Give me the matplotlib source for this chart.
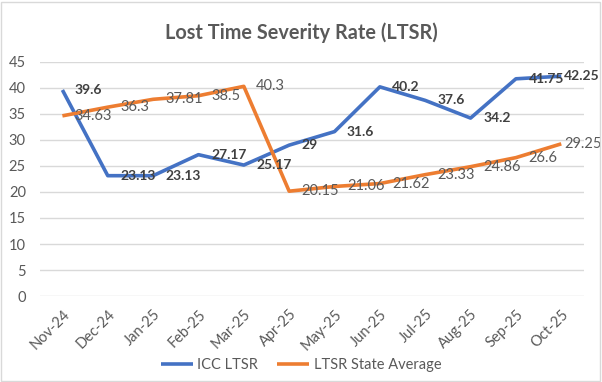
import matplotlib
matplotlib.use("Agg")
import matplotlib.pyplot as plt
from matplotlib.patches import Rectangle

months = ['Nov-24', 'Dec-24', 'Jan-25', 'Feb-25', 'Mar-25', 'Apr-25',
          'May-25', 'Jun-25', 'Jul-25', 'Aug-25', 'Sep-25', 'Oct-25']
icc_ltsr = [39.6, 23.13, 23.13, 27.17, 25.17, 29, 31.6, 40.2, 37.6, 34.2, 41.75, 42.25]
state_avg = [34.63, 36.3, 37.81, 38.5, 40.3, 20.15, 21.06, 21.62, 23.33, 24.86, 26.6, 29.25]
icc_labels = ['39.6', '23.13', '23.13', '27.17', '25.17', '29', '31.6', '40.2', '37.6', '34.2', '41.75', '42.25']
state_labels = ['34.63', '36.3', '37.81', '38.5', '40.3', '20.15', '21.06', '21.62', '23.33', '24.86', '26.6', '29.25']

plt.rcParams['font.family'] = ['Lato', 'DejaVu Sans']

blue = '#4472C4'
orange = '#ED7D31'
grey = '#595959'

fig = plt.figure(figsize=(6.02, 3.82), dpi=100)
ax = fig.add_axes([0.066, 0.225, 0.904, 0.613])

x = list(range(len(months)))
ax.plot(x, icc_ltsr, color=blue, lw=2.6, label='ICC LTSR', solid_capstyle='butt')
ax.plot(x, state_avg, color=orange, lw=2.6, label='LTSR State Average', solid_capstyle='butt')

# data labels to the right of points (last one squeezed in like Excel does)
for i in x:
    off = 9 if i < len(x) - 1 else 2
    ax.annotate(icc_labels[i], (i, icc_ltsr[i]), xytext=(off, 0), textcoords='offset points',
                ha='left', va='center', fontsize=10, fontweight='bold', color='#404040')
    ax.annotate(state_labels[i], (i, state_avg[i]), xytext=(off, 0), textcoords='offset points',
                ha='left', va='center', fontsize=10.5, color=grey)

ax.set_xlim(-0.5, len(months) - 0.5)
ax.set_ylim(0, 45)
ax.set_yticks(range(0, 46, 5))
ax.set_xticks(x)
ax.set_xticklabels(months, rotation=45, ha='right', rotation_mode='anchor')
ax.tick_params(axis='both', length=0, labelsize=10.5, colors=grey)
ax.tick_params(axis='x', pad=8)
ax.tick_params(axis='y', pad=10)
ax.grid(axis='y', color='#D9D9D9', lw=1)
ax.set_axisbelow(True)
for s in ax.spines.values():
    s.set_visible(False)

fig.text(0.5, 0.915, 'Lost Time Severity Rate (LTSR)', ha='center', va='center',
         fontsize=14.3, fontweight='bold', color=grey)

leg = fig.legend(loc='center', bbox_to_anchor=(0.5, 0.045), ncol=2, frameon=False,
                 fontsize=10.5, handlelength=2.2, columnspacing=1.3, handletextpad=0.3)
for t in leg.get_texts():
    t.set_color(grey)

fig.patches.append(Rectangle((0.002, 0.003), 0.995, 0.993, transform=fig.transFigure,
                             fill=False, edgecolor='#D9D9D9', lw=1))

fig.savefig('out.png', dpi=100)
